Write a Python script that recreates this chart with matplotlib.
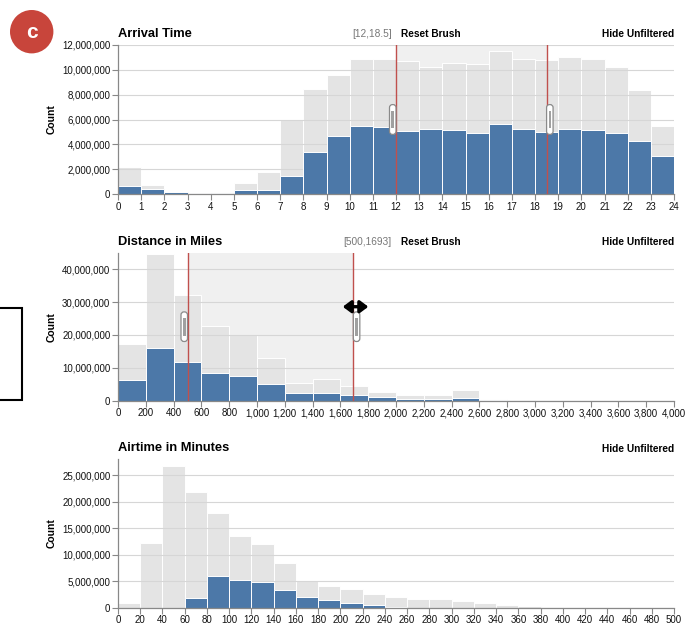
import numpy as np
import matplotlib
matplotlib.use('Agg')
import matplotlib.pyplot as plt
from matplotlib.patches import FancyBboxPatch, Rectangle, Ellipse
from matplotlib.ticker import FuncFormatter, MultipleLocator

plt.rcParams['font.family'] = ['Liberation Sans', 'DejaVu Sans']

# --- data (counts in millions) ---
arrival_bins = np.arange(0, 25)          # hour bin edges
arrival_total = [2.16, 0.73, 0.20, 0.10, 0.19, 0.92, 1.81, 5.95, 8.43, 9.57,
                 10.84, 10.87, 10.68, 10.22, 10.57, 10.46, 11.49, 10.89, 10.78,
                 11.00, 10.84, 10.24, 8.41, 5.51]
arrival_filtered = [0.65, 0.40, 0.15, 0.07, 0.10, 0.30, 0.32, 1.46, 3.38, 4.68,
                    5.51, 5.38, 5.08, 5.27, 5.14, 4.95, 5.65, 5.24, 5.03,
                    5.27, 5.16, 4.95, 4.24, 3.06]

distance_bins = np.arange(0, 4001, 200)  # mile bin edges
distance_total = [17.3, 44.6, 32.0, 22.7, 20.1, 12.9, 5.5, 6.5, 4.6, 2.75,
                  1.7, 1.6, 3.2, 0.5, 0.1, 0, 0, 0, 0, 0]
distance_filtered = [6.4, 16.1, 11.7, 8.4, 7.6, 5.0, 2.25, 2.4, 1.6, 1.0,
                     0.6, 0.5, 0.9, 0.15, 0, 0, 0, 0, 0, 0]

airtime_bins = np.arange(0, 501, 20)     # minute bin edges
airtime_total = [0.83, 12.2, 26.7, 21.9, 17.8, 13.5, 12.1, 8.4, 5.1, 4.1,
                 3.5, 2.6, 2.1, 1.7, 1.65, 1.25, 0.95, 0.55, 0.25, 0.05,
                 0, 0, 0, 0, 0]
airtime_filtered = [0, 0, 0, 1.9, 6.0, 5.15, 4.8, 3.4, 2.0, 1.5,
                    0.9, 0.45, 0.05, 0, 0, 0, 0, 0, 0, 0,
                    0, 0, 0, 0, 0]

arrival_brush = (12, 18.5)
distance_brush = (500, 1693)

BLUE = '#4c78a8'
GRAY = '#e4e4e4'
RED = '#c0504d'
AXIS = '#888888'

W, H = 685, 624


def ax_rect(left, top, right, bottom):
    # pixel box -> figure fraction
    return [left / W, 1 - bottom / H, (right - left) / W, (bottom - top) / H]


def draw_handle(ax, xval, side):
    x0, x1 = ax.get_xlim()
    xa = (xval - x0) / (x1 - x0)
    pos = ax.get_position()
    pw, ph = pos.width * W, pos.height * H
    w = 6.5 / pw
    left = xa - w if side == 'left' else xa
    ax.add_patch(FancyBboxPatch((left, 0.40), w, 0.20,
                                boxstyle='round,pad=0,rounding_size=%f' % (3 / pw),
                                mutation_aspect=pw / ph,
                                transform=ax.transAxes, facecolor='white',
                                edgecolor='#8a8a8a', linewidth=0.9, zorder=6,
                                clip_on=False))
    ax.add_patch(Rectangle((left + w * 0.3, 0.44), w * 0.4, 0.12,
                           transform=ax.transAxes, facecolor='#a0a0a0',
                           edgecolor='none', zorder=7))


def histogram(ax, bins, total, filtered, ymax, ystep, xstep, title,
              brush=None, brush_label=None):
    edges = np.asarray(bins, dtype=float)
    widths = np.diff(edges)
    ax.bar(edges[:-1], total, width=widths, align='edge', color=GRAY,
           edgecolor='white', linewidth=0.7, zorder=1)
    ax.bar(edges[:-1], filtered, width=widths, align='edge', color=BLUE,
           edgecolor='white', linewidth=0.7, zorder=2)

    ax.set_xlim(edges[0], edges[-1])
    ax.set_ylim(0, ymax)
    ax.xaxis.set_major_locator(MultipleLocator(xstep))
    ax.yaxis.set_major_locator(MultipleLocator(ystep))
    ax.yaxis.set_major_formatter(FuncFormatter(lambda v, p: f'{v * 1e6:,.0f}'))
    ax.xaxis.set_major_formatter(FuncFormatter(lambda v, p: f'{v:,.0f}'))

    # grid sits above the gray bars but under the blue ones
    ax.set_axisbelow('line')
    ax.grid(axis='y', color='#d6d6d6', linewidth=0.8)
    for s in ['top', 'right']:
        ax.spines[s].set_visible(False)
    for s in ['left', 'bottom']:
        ax.spines[s].set_color(AXIS)
        ax.spines[s].set_linewidth(0.9)
    ax.tick_params(direction='out', length=4, width=0.8, color=AXIS,
                   labelsize=7, labelcolor='#111111', pad=1.5)

    ax.set_ylabel('Count', fontsize=7.5, fontweight='bold')
    ax.yaxis.set_label_coords(-0.11, 0.5)

    ax.text(0, 1.075, title, transform=ax.transAxes, fontsize=9.3,
            fontweight='bold', ha='left', va='center')
    ax.text(1, 1.072, 'Hide Unfiltered', transform=ax.transAxes, fontsize=7.3,
            fontweight='bold', ha='right', va='center')

    if brush is not None:
        lo, hi = brush
        ax.axvspan(lo, hi, color='black', alpha=0.06, linewidth=0, zorder=0.5)
        ax.axvline(lo, color=RED, linewidth=1, zorder=5)
        ax.axvline(hi, color=RED, linewidth=1, zorder=5)
        draw_handle(ax, lo, 'left')
        draw_handle(ax, hi, 'right')
        ax.text(brush_label[0], 1.072, brush_label[1], transform=ax.transAxes,
                fontsize=7.3, color='#777777', ha='left', va='center')
        ax.text(0.509, 1.072, 'Reset Brush', transform=ax.transAxes,
                fontsize=7.3, fontweight='bold', ha='left', va='center')


fig = plt.figure(figsize=(W / 100, H / 100), dpi=100)

ax1 = fig.add_axes(ax_rect(118, 45, 674, 194))
histogram(ax1, arrival_bins, arrival_total, arrival_filtered, 12, 2, 1,
          'Arrival Time', arrival_brush, (0.421, '[12,18.5]'))

ax2 = fig.add_axes(ax_rect(118, 252.7, 674, 400.7))
histogram(ax2, distance_bins, distance_total, distance_filtered, 45, 10, 200,
          'Distance in Miles', distance_brush, (0.405, '[500,1693]'))

ax3 = fig.add_axes(ax_rect(118, 459.3, 674, 607.7))
histogram(ax3, airtime_bins, airtime_total, airtime_filtered, 28, 5, 20,
          'Airtime in Minutes')

# drag cursor on the right edge of the distance brush
xa = (distance_brush[1] - distance_bins[0]) / (distance_bins[-1] - distance_bins[0])
ax2.annotate('', xy=(xa + 0.027, 0.635), xytext=(xa - 0.019, 0.635),
             xycoords='axes fraction',
             arrowprops=dict(arrowstyle='<|-|>,head_length=0.4,head_width=0.3',
                             facecolor='black', edgecolor='black', lw=2.4,
                             mutation_scale=12, shrinkA=0, shrinkB=0),
             zorder=10)

# red "c" badge
fig.patches.append(Ellipse((31.7 / W, 1 - 31.7 / H), 43.4 / W, 43.4 / H,
                           transform=fig.transFigure, facecolor='#c8453b',
                           edgecolor='none'))
fig.text(31.7 / W, 1 - 32.5 / H, 'c', color='white', fontsize=15,
         fontweight='bold', ha='center', va='center')

# partial box on the left edge
fig.patches.append(Rectangle((-10 / W, 1 - 400 / H), 32 / W, 92 / H,
                             transform=fig.transFigure, facecolor='none',
                             edgecolor='black', linewidth=1.5))

fig.savefig('out.png', dpi=100)
